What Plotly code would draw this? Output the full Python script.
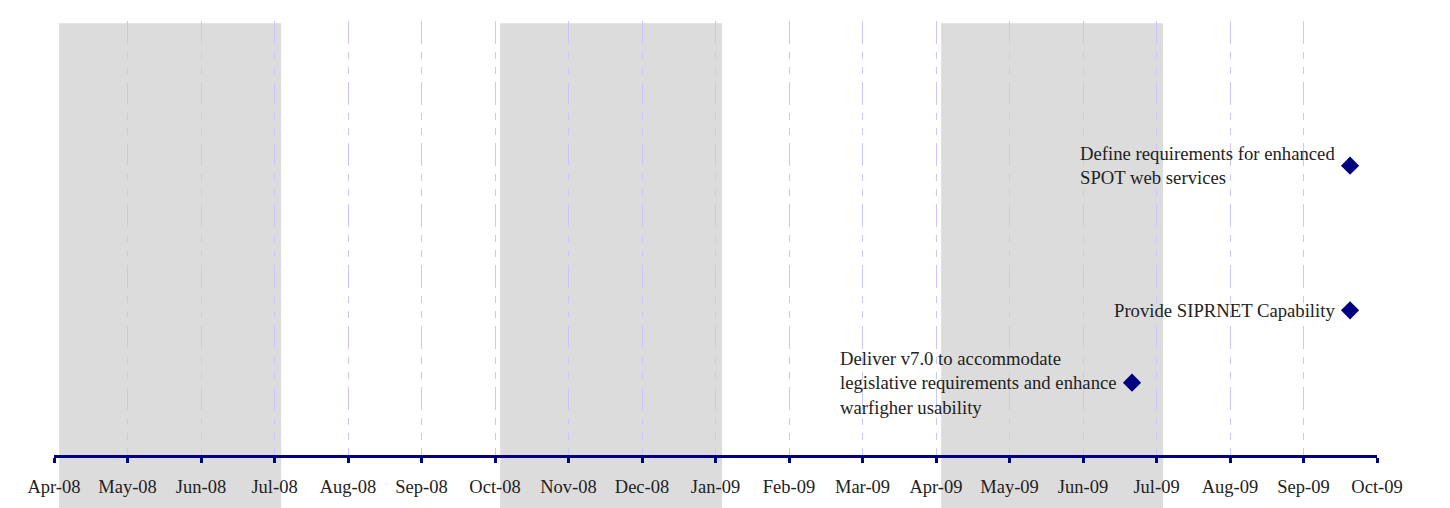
import calendar
import plotly.graph_objects as go

# ---- data ----
month_labels = ["Apr-08", "May-08", "Jun-08", "Jul-08", "Aug-08", "Sep-08", "Oct-08",
                "Nov-08", "Dec-08", "Jan-09", "Feb-09", "Mar-09", "Apr-09", "May-09",
                "Jun-09", "Jul-09", "Aug-09", "Sep-09", "Oct-09"]
start_year, start_month = 2008, 4

milestone_dates = ["2009-09-20", "2009-09-20", "2009-06-21"]
milestone_levels = [4, 2, 1]
milestone_labels = [
    "Define requirements for enhanced<br>SPOT web services",
    "Provide SIPRNET Capability",
    "Deliver v7.0 to accommodate<br>legislative requirements and enhance<br>warfigher usability",
]

# shaded quarters (start month label, end month label)
shaded_periods = [("Apr-08", "Jul-08"), ("Oct-08", "Jan-09"), ("Apr-09", "Jul-09")]


def month_index(date_str):
    y, m, d = (int(v) for v in date_str.split("-"))
    dim = calendar.monthrange(y, m)[1]
    return (y - start_year) * 12 + (m - start_month) + (d - 1) / dim


mx = [month_index(d) for d in milestone_dates]
tickvals = list(range(len(month_labels)))

NAVY = "#000080"
FONT = "Liberation Serif"
TXT = "#222222"

fig = go.Figure()

fig.add_trace(go.Scatter(
    x=mx, y=milestone_levels, mode="markers",
    marker=dict(symbol="diamond", size=14, color=NAVY, line=dict(width=0)),
    hoverinfo="skip", showlegend=False,
))

for x, y, t in zip(mx, milestone_levels, milestone_labels):
    fig.add_annotation(
        x=x, y=y, text=t, showarrow=False, xanchor="right", yanchor="middle",
        align="left", xshift=-13, font=dict(family=FONT, size=18.7, color=TXT),
    )

shapes = []
for a, b in shaded_periods:
    x0 = month_labels.index(a) + 0.07
    x1 = month_labels.index(b) + 0.09
    shapes.append(dict(type="rect", xref="x", yref="paper", x0=x0, x1=x1,
                       y0=-0.125, y1=0.995, fillcolor="#dcdcdc",
                       line=dict(width=0), layer="below"))
fig.update_layout(shapes=shapes)

fig.update_layout(
    width=1450, height=508,
    margin=dict(l=54, r=73, t=21, b=53, autoexpand=False),
    paper_bgcolor="white", plot_bgcolor="rgba(0,0,0,0)",
    font=dict(family=FONT, size=18, color=TXT),
    xaxis=dict(
        range=[0, len(month_labels) - 1],
        tickmode="array", tickvals=tickvals, ticktext=month_labels,
        showline=True, linecolor=NAVY, linewidth=3,
        ticks="outside", ticklen=5, tickwidth=3, tickcolor=NAVY,
        ticklabelstandoff=8, automargin=False,
        tickfont=dict(family=FONT, size=18.5, color=TXT),
        showgrid=True, gridcolor="#c8c8ff", gridwidth=1,
        griddash="23px,8px,7px,8px,7px,8px",
        zeroline=False, fixedrange=True,
    ),
    yaxis=dict(range=[0, 6], visible=False, showgrid=False, zeroline=False,
               automargin=False, fixedrange=True),
)

fig.write_html("out.html",
               config={"displayModeBar": False, "staticPlot": True},
               post_script="document.body.style.margin='0';document.body.style.overflow='hidden';")
